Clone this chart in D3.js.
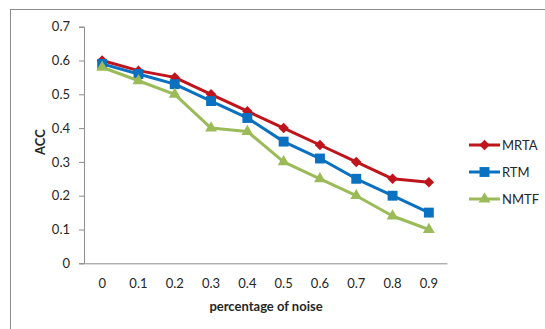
<!DOCTYPE html>
<html>
<head>
<meta charset="utf-8">
<script src="https://cdn.jsdelivr.net/npm/d3@7"></script>
<style>
  html, body { margin: 0; padding: 0; background: #fff; }
  svg { display: block; }
</style>
</head>
<body>
<svg id="chart" width="545" height="329"></svg>
<script>
// Noise levels on the x axis
const categories = ["0", "0.1", "0.2", "0.3", "0.4", "0.5", "0.6", "0.7", "0.8", "0.9"];
// Accuracy for each method
const mrta = [0.60, 0.57, 0.55, 0.50, 0.45, 0.40, 0.35, 0.30, 0.25, 0.24];
const rtm  = [0.59, 0.56, 0.53, 0.48, 0.43, 0.36, 0.31, 0.25, 0.20, 0.15];
const nmtf = [0.58, 0.54, 0.50, 0.40, 0.39, 0.30, 0.25, 0.20, 0.14, 0.10];
const yTicks = [0, 0.1, 0.2, 0.3, 0.4, 0.5, 0.6, 0.7];
const seriesNames = ["MRTA", "RTM", "NMTF"];

const series = [
  { name: seriesNames[0], values: mrta, color: "#C0141C", shape: d3.symbolDiamond2, size: 70 },
  { name: seriesNames[1], values: rtm,  color: "#0A70C0", shape: d3.symbolSquare2, size: 125 },
  { name: seriesNames[2], values: nmtf, color: "#9BBB59", shape: d3.symbolTriangle2, size: 100 }
];

const svg = d3.select("#chart");
const font = "Lato, 'Open Sans', 'Liberation Sans', Arial, sans-serif";
const textColor = "#262626";

// outer chart frame
svg.append("rect")
  .attr("x", 10.5).attr("y", 9.5)
  .attr("width", 560).attr("height", 340)
  .attr("fill", "#fff").attr("stroke", "#8c8c8c").attr("stroke-width", 1);

const plot = { left: 84, right: 447, top: 26.7, bottom: 263.3 };

const x = d3.scaleBand().domain(categories).range([plot.left, plot.right]);
const y = d3.scaleLinear().domain([0, 0.7]).range([plot.bottom, plot.top]);

// y axis
const yAxis = svg.append("g")
  .attr("transform", `translate(${plot.left},0)`)
  .call(d3.axisLeft(y).tickValues(yTicks).tickSize(5).tickPadding(9)
    .tickFormat(d => d === 0 ? "0" : d3.format(".1f")(d)));
yAxis.select(".domain").attr("stroke", "#8c8c8c");
yAxis.selectAll(".tick line").attr("stroke", "#8c8c8c");
yAxis.selectAll("text").attr("fill", textColor).style("font-family", font).style("font-size", "13px");

// x axis
const xAxis = svg.append("g")
  .attr("transform", `translate(0,${plot.bottom})`)
  .call(d3.axisBottom(x).tickSize(0).tickPadding(15));
xAxis.select(".domain").attr("stroke", "#8c8c8c");
xAxis.selectAll("text").attr("fill", textColor).style("font-family", font).style("font-size", "13px");

// axis titles
svg.append("text")
  .attr("x", 266).attr("y", 311)
  .attr("text-anchor", "middle")
  .attr("fill", textColor).attr("font-weight", "bold")
  .style("font-family", font).style("font-size", "13px")
  .text("percentage of noise");

svg.append("text")
  .attr("transform", `translate(45,142) rotate(-90)`)
  .attr("text-anchor", "middle")
  .attr("fill", textColor).attr("font-weight", "bold")
  .style("font-family", font).style("font-size", "13px")
  .text("ACC");

const cx = (d, i) => x(categories[i]) + x.bandwidth() / 2;
const line = d3.line().x(cx).y(d => y(d));

// series lines and markers
series.forEach(s => {
  const g = svg.append("g");
  g.append("path")
    .datum(s.values)
    .attr("d", line)
    .attr("fill", "none")
    .attr("stroke", s.color)
    .attr("stroke-width", 3)
    .attr("stroke-linejoin", "round");
  g.selectAll("path.m")
    .data(s.values)
    .join("path")
    .attr("class", "m")
    .attr("transform", (d, i) => `translate(${cx(d, i)},${y(d)})`)
    .attr("d", d3.symbol().type(s.shape).size(s.size))
    .attr("fill", s.color);
});

// legend
const legend = svg.append("g");
series.forEach((s, i) => {
  const ly = 145 + i * 27;
  legend.append("line")
    .attr("x1", 469).attr("x2", 500)
    .attr("y1", ly).attr("y2", ly)
    .attr("stroke", s.color).attr("stroke-width", 3);
  legend.append("path")
    .attr("transform", `translate(484.5,${ly})`)
    .attr("d", d3.symbol().type(s.shape).size(s.size))
    .attr("fill", s.color);
  legend.append("text")
    .attr("x", 502).attr("y", ly)
    .attr("dy", "0.35em")
    .attr("fill", textColor)
    .style("font-family", font).style("font-size", "13px")
    .text(s.name);
});
</script>
</body>
</html>
